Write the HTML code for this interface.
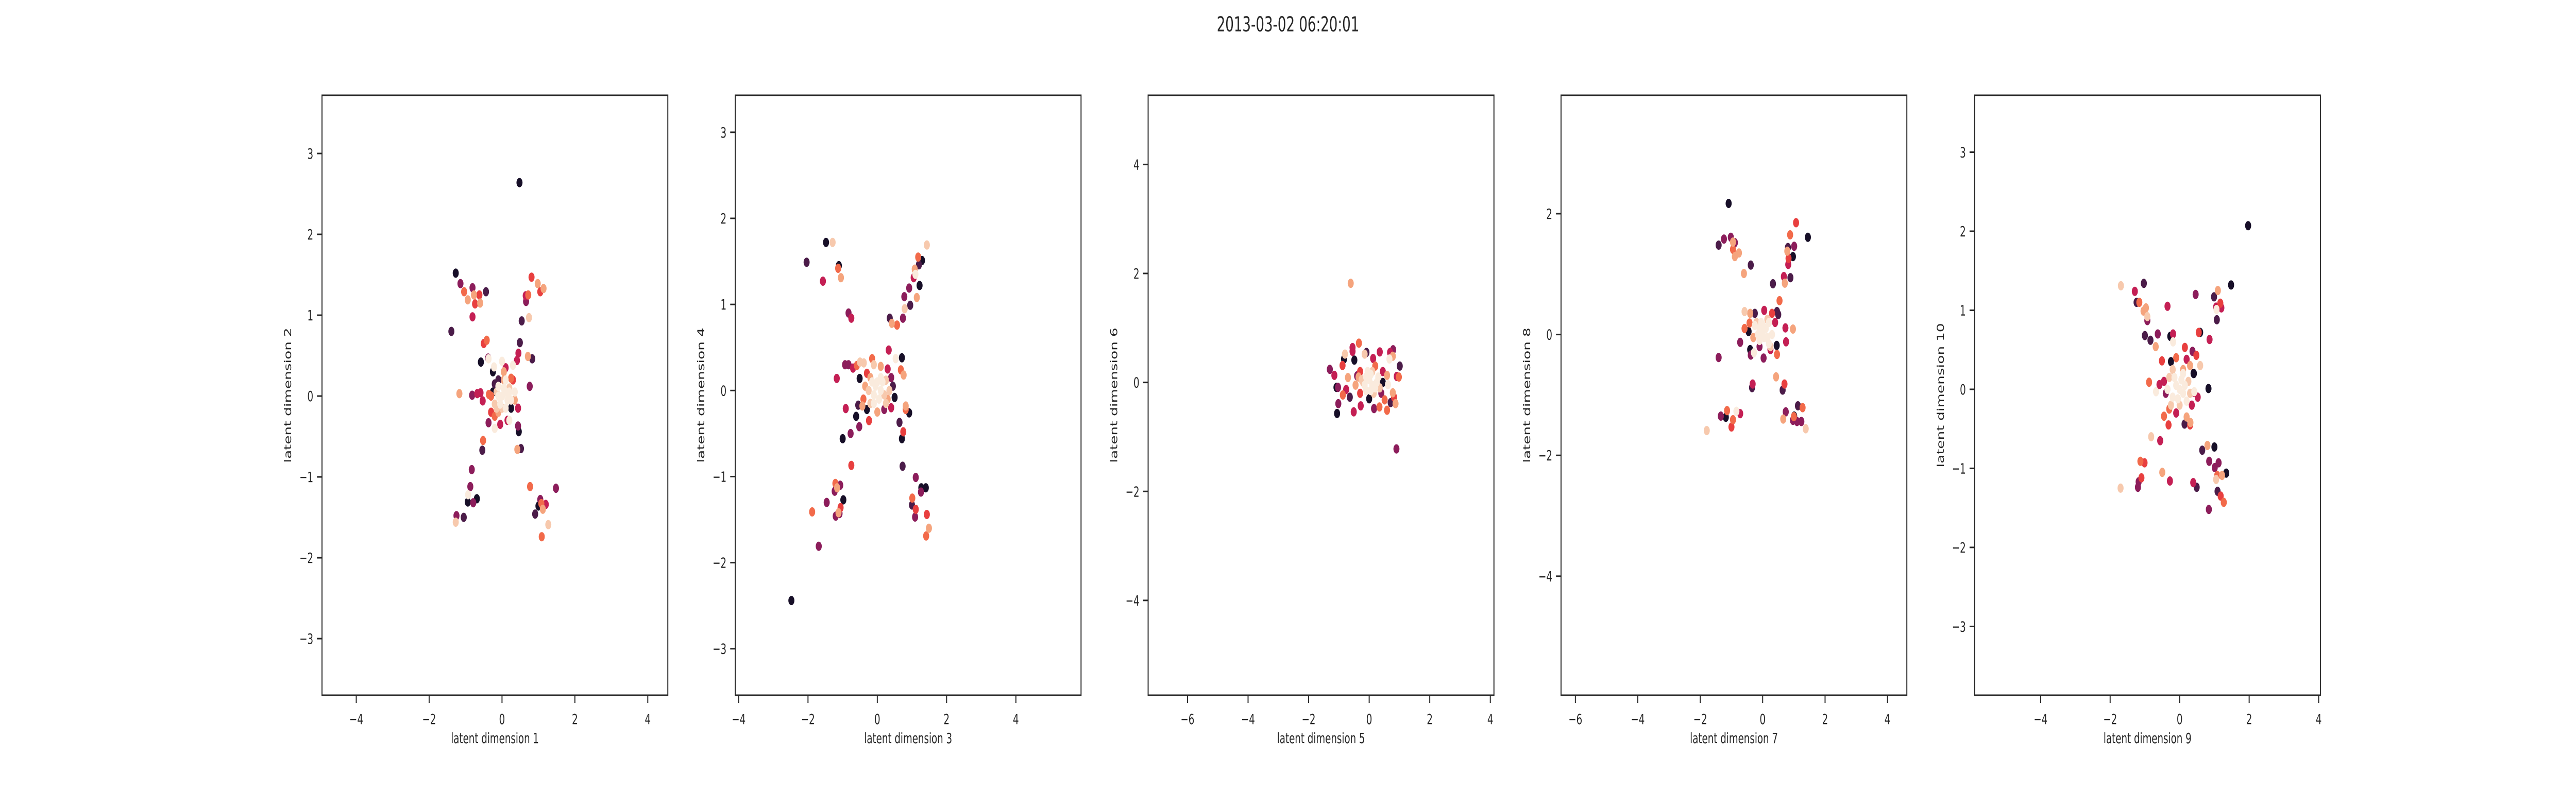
<!DOCTYPE html>
<html><head><meta charset="utf-8"><style>
html,body{margin:0;padding:0;background:#fff;width:100%;height:100%;overflow:hidden;}
svg{display:block;width:100vw;height:100vh;font-family:"DejaVu Sans","Liberation Sans",sans-serif;}
</style></head><body>
<svg id="fig" viewBox="0 0 7680 1536" preserveAspectRatio="none" xmlns="http://www.w3.org/2000/svg">
<rect width="7680" height="1536" fill="#fff"/>
<text x="3840" y="61" font-size="40" text-anchor="middle" fill="#262626">2013-03-02 06:20:01</text>
</svg>
<script>
const palette = ['#170f28','#4b1c49','#8c1d5b','#c41f54','#e83f3f','#f26a4a','#f5a47d','#f7c9ad','#faebdd'];
const xLabels = ['latent dimension 1','latent dimension 3','latent dimension 5','latent dimension 7','latent dimension 9'];
const yLabels = ['latent dimension 2','latent dimension 4','latent dimension 6','latent dimension 8','latent dimension 10'];
const xLims = [[-4.94,4.55],[-4.10,5.88],[-7.30,4.12],[-6.46,4.62],[-5.90,4.05]];
const yLims = [[-3.70,3.72],[-3.54,3.43],[-5.74,5.27],[-5.97,3.96],[-3.87,3.72]];
const xTicks = [[-4,-2,0,2,4],[-4,-2,0,2,4],[-6,-4,-2,0,2,4],[-6,-4,-2,0,2,4],[-4,-2,0,2,4]];
const yTicks = [[-3,-2,-1,0,1,2,3],[-3,-2,-1,0,1,2,3],[-4,-2,0,2,4],[-4,-2,0,2],[-3,-2,-1,0,1,2,3]];
// points: [x, y, colorIndex]
const points1 = [[0.48,2.64,0],[-1.27,1.52,0],[-1.14,1.39,2],[-1.04,1.29,5],[-0.81,1.34,2],[-0.94,1.19,6],[-0.77,1.25,6],[-0.62,1.25,4],[-0.74,1.14,4],[-0.60,1.15,6],[-0.44,1.29,1],[-0.81,0.98,3],[-1.39,0.80,1],[0.81,1.47,4],[0.98,1.39,6],[1.14,1.33,6],[1.05,1.29,4],[0.65,1.24,3],[0.72,1.25,5],[0.66,1.17,2],[0.74,0.97,7],[0.54,0.93,1],[-0.50,0.65,4],[-0.42,0.69,5],[0.49,0.66,1],[0.45,0.53,3],[0.41,0.44,3],[0.83,0.46,1],[0.71,0.49,6],[-0.58,0.42,0],[-0.38,0.47,2],[-0.37,0.46,8],[0.76,0.12,2],[-1.17,0.03,6],[-0.82,0.01,2],[-0.68,0.03,3],[-0.59,0.04,3],[-0.53,-0.06,3],[0.44,-0.15,3],[-0.37,-0.33,2],[0.44,-0.37,2],[0.46,-0.44,0],[-0.52,-0.55,5],[-0.54,-0.67,1],[0.42,-0.66,6],[0.52,-0.65,1],[-0.83,-0.91,2],[-0.87,-1.12,2],[-0.93,-1.22,8],[-0.94,-1.31,0],[-0.69,-1.27,0],[-0.79,-1.32,2],[-1.25,-1.48,2],[-1.27,-1.56,7],[-1.05,-1.50,1],[0.77,-1.12,5],[1.48,-1.14,2],[1.05,-1.28,2],[1.00,-1.36,0],[1.20,-1.34,3],[1.08,-1.33,5],[1.12,-1.40,6],[0.91,-1.46,1],[1.27,-1.59,7],[1.09,-1.74,5],
[-0.25,0.30,0],[-0.10,0.20,1],[0.10,0.35,3],[0.30,0.20,4],[0.00,0.43,8],[0.30,0.38,8],[-0.22,0.36,8],[0.05,0.30,6],[0.05,0.20,6],[0.25,0.22,5],[-0.20,0.15,1],[-0.25,0.05,0],[0.20,0.05,8],[0.35,0.05,8],[0.35,-0.05,6],[0.25,-0.15,0],[0.20,-0.30,8],[0.15,-0.30,3],[-0.05,-0.35,3],[-0.20,-0.40,8],[-0.30,-0.20,4],[-0.20,-0.25,5],[-0.10,-0.20,6],[-0.30,0.00,5],[-0.36,0.02,5],[0.10,-0.15,8],[-0.10,0.00,8],[0.00,0.00,8],[0.05,0.10,8],[-0.05,-0.10,8],[0.10,0.05,8],[-0.15,0.05,7],[0.15,-0.05,8],[0.00,-0.15,7],[-0.10,0.12,8],[0.20,0.10,7],[-0.20,-0.10,7],[0.25,-0.05,8],[-0.15,-0.15,7],[0.10,0.20,8]];
const points2 = [[-2.48,-2.44,0],[-2.04,1.49,1],[-1.48,1.72,0],[-1.29,1.72,7],[-1.57,1.27,3],[-1.11,1.45,0],[-1.13,1.42,5],[-1.05,1.31,6],[-0.83,0.90,2],[-0.75,0.84,3],[1.43,1.69,7],[1.18,1.55,5],[1.29,1.51,0],[1.20,1.46,1],[1.08,1.41,6],[1.10,1.35,8],[1.05,1.31,3],[1.22,1.22,0],[0.92,1.19,2],[0.78,1.09,2],[1.14,1.08,6],[0.95,0.99,1],[0.79,0.95,7],[0.36,0.84,1],[0.74,0.84,2],[0.42,0.78,6],[0.57,0.76,5],[0.33,0.47,3],[0.71,0.38,0],[0.53,0.37,8],[0.68,0.24,5],[0.76,0.18,6],[-0.93,0.30,2],[-0.83,0.30,2],[-0.70,0.26,3],[-1.17,0.14,3],[-0.59,0.29,5],[-0.50,0.33,7],[-0.39,0.32,7],[-0.15,0.37,5],[-0.51,0.14,0],[-0.91,-0.21,3],[-0.55,-0.17,1],[-0.43,-0.18,6],[-0.61,-0.30,0],[-0.24,-0.35,4],[-0.52,-0.42,2],[-0.77,-0.50,2],[-1.00,-0.56,0],[0.82,-0.18,6],[0.82,-0.22,5],[0.92,-0.26,0],[0.64,-0.37,1],[0.75,-0.48,4],[0.71,-0.56,0],[-0.75,-0.87,4],[0.73,-0.88,1],[1.11,-1.01,2],[-1.21,-1.08,5],[-1.07,-1.10,2],[-1.16,-1.13,6],[-1.23,-1.17,2],[-0.98,-1.27,0],[-1.46,-1.30,2],[-1.06,-1.36,4],[-1.09,-1.43,2],[-1.12,-1.42,6],[-1.20,-1.46,2],[-1.88,-1.41,5],[-1.69,-1.81,2],[1.27,-1.13,0],[1.40,-1.13,0],[1.26,-1.18,2],[1.01,-1.25,5],[1.00,-1.33,1],[1.11,-1.38,4],[1.09,-1.47,2],[1.43,-1.44,4],[1.49,-1.60,6],[1.41,-1.69,5],
[-0.30,0.20,4],[-0.20,0.15,6],[0.30,0.25,3],[0.40,0.15,2],[0.45,0.05,1],[0.50,-0.08,0],[0.40,-0.20,3],[0.20,-0.22,2],[-0.30,-0.22,0],[-0.40,-0.10,5],[-0.35,0.05,6],[-0.10,0.30,7],[0.10,0.28,6],[0.25,0.12,7],[0.30,-0.10,6],[0.00,-0.25,6],[-0.20,-0.15,7],[-0.10,-0.05,8],[0.00,0.10,8],[0.10,0.00,8],[-0.05,0.05,8],[0.15,0.10,8],[0.05,-0.10,8],[-0.15,0.10,8],[0.20,-0.05,7],[-0.25,0.00,7],[0.35,0.00,7],[0.10,0.15,8],[-0.10,-0.15,8],[0.25,-0.15,7]];
const points3 = [[-0.61,1.82,6],[-0.34,0.72,5],[-0.55,0.64,3],[-0.55,0.57,3],[-0.80,0.52,7],[-0.83,0.43,0],[-0.49,0.41,0],[-0.09,0.55,1],[-0.15,0.52,7],[0.35,0.56,3],[0.13,0.44,3],[0.79,0.60,2],[0.69,0.55,3],[0.78,0.48,6],[0.67,0.43,8],[1.01,0.30,1],[0.91,0.11,3],[0.98,0.10,5],[-1.30,0.24,2],[-1.15,0.13,3],[-0.88,0.31,4],[-1.08,-0.09,0],[-1.03,-0.09,2],[-0.70,0.09,6],[-0.76,-0.13,3],[-0.87,-0.23,5],[-0.64,-0.27,1],[-1.02,-0.39,2],[-1.06,-0.57,0],[-0.51,-0.54,3],[-0.28,-0.43,3],[0.16,-0.48,2],[0.34,-0.45,5],[0.59,-0.51,5],[0.51,-0.32,5],[0.71,-0.37,1],[0.87,-0.39,6],[0.82,-0.27,4],[0.78,-0.19,6],[0.62,-0.04,8],[0.90,-1.22,2],[0.59,0.13,6],
[-0.40,0.12,2],[-0.30,0.20,4],[0.20,0.30,5],[0.45,0.20,3],[0.45,0.00,0],[0.40,-0.20,2],[0.00,-0.30,0],[-0.30,-0.20,4],[-0.45,-0.05,6],[-0.20,0.00,7],[0.10,0.20,7],[0.30,0.10,8],[0.20,-0.10,8],[-0.10,-0.15,8],[0.00,0.05,8],[0.10,-0.05,8],[-0.10,0.10,8],[0.25,0.00,8],[-0.25,0.05,7],[0.05,0.15,8],[0.15,-0.20,7],[-0.15,-0.05,8],[0.35,-0.10,7],[-0.35,0.10,6],[0.05,-0.15,8],[-0.05,0.20,8]];
const points4 = [[-1.09,2.17,0],[-1.41,1.48,1],[-1.24,1.58,2],[-1.02,1.61,2],[-0.89,1.52,2],[-0.95,1.53,6],[-0.95,1.41,5],[-0.76,1.35,6],[-0.89,1.29,6],[-0.38,1.15,1],[-0.60,1.01,6],[1.07,1.85,4],[0.88,1.65,5],[1.45,1.61,0],[0.81,1.44,1],[1.01,1.46,2],[0.79,1.38,6],[0.97,1.29,0],[0.83,1.26,4],[0.82,1.16,3],[0.68,0.96,3],[0.89,0.94,1],[0.71,0.85,6],[0.33,0.84,1],[0.54,0.56,5],[-0.58,0.38,7],[0.46,0.38,1],[0.50,0.33,1],[0.73,0.11,3],[0.97,0.09,6],[-0.72,-0.13,2],[0.75,-0.12,3],[-1.41,-0.38,2],[0.46,-0.33,5],[0.43,-0.70,6],[-0.32,-0.82,3],[-0.34,-0.88,1],[0.70,-0.82,4],[0.64,-0.92,1],[-1.34,-1.35,2],[-1.18,-1.37,0],[-1.14,-1.26,5],[-0.72,-1.31,3],[-0.84,-1.27,8],[-0.95,-1.41,5],[-1.00,-1.53,4],[-1.79,-1.59,7],[0.74,-1.28,2],[1.13,-1.18,1],[1.28,-1.21,5],[1.01,-1.35,0],[0.97,-1.42,2],[1.10,-1.44,2],[1.24,-1.44,2],[0.66,-1.40,6],[1.00,-1.36,5],[1.38,-1.56,7],[0.03,-0.39,2],[-0.38,-0.34,2],[-0.28,-0.30,8],[-0.58,0.10,5],[-0.42,0.19,5],[-0.40,0.35,6],
[-0.45,0.05,0],[-0.40,-0.25,0],[-0.25,0.35,1],[0.05,0.40,3],[0.30,0.35,4],[0.40,0.20,3],[0.45,-0.18,0],[0.25,-0.25,3],[-0.10,-0.20,2],[-0.30,-0.05,6],[-0.20,0.20,7],[0.15,0.25,7],[0.30,0.00,8],[0.20,-0.15,8],[-0.10,-0.10,8],[0.00,0.00,8],[0.10,0.10,8],[-0.10,0.10,8],[0.05,-0.05,8],[-0.05,0.20,8],[0.15,-0.05,8],[-0.15,0.00,8],[0.00,0.15,8],[0.25,-0.20,7],[-0.25,0.15,8],[0.20,0.20,8]];
const points5 = [[1.97,2.07,0],[1.48,1.32,0],[1.10,1.25,6],[0.99,1.17,1],[1.17,1.09,4],[1.20,1.03,3],[1.05,1.04,3],[1.06,1.01,8],[1.07,0.88,1],[0.46,1.20,2],[0.59,0.72,0],[0.55,0.72,4],[0.86,0.63,3],[0.48,0.43,4],[0.37,0.48,2],[0.59,0.30,7],[0.15,0.53,4],[0.83,0.01,0],[0.41,0.20,0],[0.42,-0.04,3],[0.52,-0.10,3],[0.42,-0.03,8],[-1.69,1.31,7],[-1.03,1.34,1],[-1.29,1.24,3],[-1.24,1.10,1],[-1.16,1.10,5],[-0.97,1.03,6],[-1.04,0.99,6],[-0.93,0.92,7],[-0.93,0.87,2],[-0.35,1.05,3],[-1.00,0.68,1],[-0.84,0.62,1],[-0.63,0.70,2],[-0.69,0.54,6],[-0.27,0.67,0],[-0.19,0.70,3],[-0.19,0.60,8],[-0.51,0.36,4],[-0.88,0.09,5],[-0.68,-0.03,8],[-0.58,0.06,3],[-0.82,-0.60,7],[-0.56,-0.65,3],[-0.45,-0.34,5],[-0.32,-0.45,4],[0.14,-0.44,1],[0.30,-0.45,4],[0.31,-0.42,6],[0.65,-0.77,1],[0.80,-0.71,6],[1.00,-0.73,0],[0.85,-0.91,2],[1.12,-0.93,2],[1.01,-0.99,2],[1.34,-1.06,0],[1.22,-1.09,6],[1.08,-1.09,5],[1.05,-1.14,7],[0.39,-1.18,3],[0.49,-1.24,1],[1.09,-1.29,1],[1.18,-1.35,4],[1.27,-1.43,5],[0.84,-1.52,2],[-1.13,-0.91,5],[-1.01,-0.93,4],[-0.50,-1.05,6],[-0.28,-1.16,3],[-1.10,-1.12,4],[-1.18,-1.17,2],[-1.20,-1.24,2],[-1.70,-1.25,7],
[-0.25,0.35,0],[-0.10,0.40,5],[0.20,0.38,3],[0.30,0.30,6],[0.40,0.20,0],[0.35,-0.20,3],[0.20,-0.35,6],[-0.10,-0.30,3],[-0.30,-0.25,5],[-0.40,-0.05,2],[-0.45,0.10,3],[-0.30,0.15,7],[-0.20,0.25,7],[0.10,0.25,6],[0.25,0.10,7],[0.20,-0.15,8],[-0.20,-0.10,8],[-0.10,0.05,8],[0.00,0.00,8],[0.05,0.12,8],[0.10,-0.05,8],[-0.05,-0.12,8],[0.15,0.05,8],[-0.15,0.15,8],[0.30,-0.05,7],[-0.25,-0.20,7],[0.00,-0.20,7],[-0.35,0.00,8],[0.10,0.20,8]];
const allPoints = [points1, points2, points3, points4, points5];

const NS = 'http://www.w3.org/2000/svg';
const fig = document.getElementById('fig');
const axLefts = [960, 2192, 3423, 4654, 5887];
const axW = 1031, axTop = 185, axBottom = 1350;
const ink = '#262626';
function mk(tag, attrs, parent) {
  const e = document.createElementNS(NS, tag);
  for (const k in attrs) e.setAttribute(k, attrs[k]);
  parent.appendChild(e);
  return e;
}
for (let p = 0; p < 5; p++) {
  const L = axLefts[p];
  const [x0, x1] = xLims[p], [y0, y1] = yLims[p];
  const sx = v => L + (v - x0) / (x1 - x0) * axW;
  const sy = v => axBottom - (v - y0) / (y1 - y0) * (axBottom - axTop);
  const g = mk('g', {}, fig);
  
  
  const clipId = 'clip' + p;
  const cp = mk('clipPath', {id: clipId}, g);
  mk('rect', {x: L, y: axTop, width: axW, height: axBottom - axTop}, cp);
  const pg = mk('g', {'clip-path': 'url(#' + clipId + ')'}, g);
  
  
  const pts = allPoints[p].slice().sort((a, b) => a[2] - b[2]);
  for (const pt of pts) {
    const c = mk('circle', {cx: sx(pt[0]).toFixed(1), cy: sy(pt[1]).toFixed(1), r: 9, fill: palette[pt[2]]}, pg);
    
    
  }
  const frame = mk('rect', {x: L, y: axTop, width: axW, height: axBottom - axTop, fill: 'none', stroke: ink, 'stroke-width': 3}, g);
  
  
  for (const t of xTicks[p]) {
    const x = sx(t);
    const tl = mk('line', {x1: x, y1: axBottom, x2: x, y2: axBottom + 15, stroke: ink, 'stroke-width': 3}, g);
    
    
    const tx = mk('text', {x: x, y: axBottom + 56, 'font-size': 28, 'text-anchor': 'middle', fill: ink}, g);
    
    
    tx.textContent = t < 0 ? '\u2212' + Math.abs(t) : String(t);
  }
  for (const t of yTicks[p]) {
    const y = sy(t);
    const tl = mk('line', {x1: L - 15, y1: y, x2: L, y2: y, stroke: ink, 'stroke-width': 3}, g);
    
    
    const tx = mk('text', {x: L - 26, y: y + 10, 'font-size': 28, 'text-anchor': 'end', fill: ink}, g);
    
    
    tx.textContent = t < 0 ? '\u2212' + Math.abs(t) : String(t);
  }
  const xl = mk('text', {x: L + axW / 2, y: 1443, 'font-size': 28, 'text-anchor': 'middle', fill: ink}, g);
  
  
  xl.textContent = xLabels[p];
  const yc = (axTop + axBottom) / 2;
  const yl = mk('text', {x: L - 92, y: yc, 'font-size': 28, 'text-anchor': 'middle', fill: ink, transform: 'rotate(-90 ' + (L - 92) + ' ' + yc + ')'}, g);
  
  
  yl.textContent = yLabels[p];
}
</script>
</body></html>
